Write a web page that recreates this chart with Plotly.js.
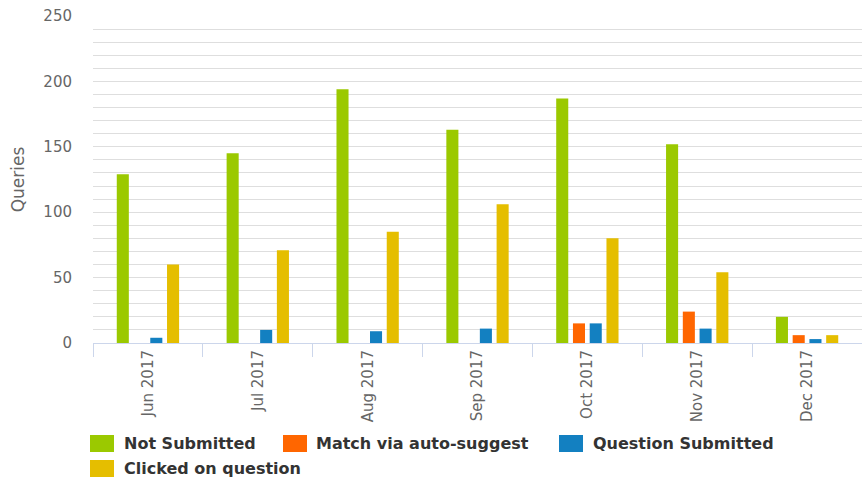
<!DOCTYPE html>
<html>
<head>
<meta charset="utf-8">
<script src="https://cdn.plot.ly/plotly-3.0.1.min.js"></script>
<style>
html,body{margin:0;padding:0;background:#fff;}
#chart{width:862px;height:483px;}
</style>
</head>
<body>
<div id="chart"></div>
<script>
var months = ["Jun 2017","Jul 2017","Aug 2017","Sep 2017","Oct 2017","Nov 2017","Dec 2017"];
var seriesNames = ["Not Submitted","Match via auto-suggest","Question Submitted","Clicked on question"];
var notSubmitted = [129, 145, 194, 163, 187, 152, 20];
var matchAutoSuggest = [0, 0, 0, 0, 15, 24, 6];
var questionSubmitted = [4, 10, 9, 11, 15, 11, 3];
var clickedOnQuestion = [60, 71, 85, 106, 80, 54, 6];
var colors = ["#9bc900", "#ff6600", "#1380c1", "#e5be00"];

var W = 862, H = 483;
var mL = 93, mR = 0, mT = 16, mB = 140;
var pw = W - mL - mR, ph = H - mT - mB;
function px2x(p){ return (p - mL) / pw; }
function px2y(p){ return (H - mB - p) / ph; }

var values = [notSubmitted, matchAutoSuggest, questionSubmitted, clickedOnQuestion];
var traces = values.map(function(v, i){
  return {
    type: "bar",
    name: seriesNames[i],
    x: months,
    y: v,
    marker: {color: colors[i]},
    showlegend: false,
    hoverinfo: "x+y+name"
  };
});

// custom legend (positions in pixels converted to paper coords)
var legendItems = [
  {sx: 90, tx: 122, cy: 443.5},
  {sx: 283, tx: 314, cy: 443.5},
  {sx: 559, tx: 591, cy: 443.5},
  {sx: 90, tx: 122, cy: 468.5}
];
var shapes = [], annotations = [];
legendItems.forEach(function(it, i){
  shapes.push({
    type: "rect", xref: "paper", yref: "paper",
    x0: px2x(it.sx), x1: px2x(it.sx + 24),
    y0: px2y(it.cy - 8.5), y1: px2y(it.cy + 8.5),
    fillcolor: colors[i], line: {width: 0}
  });
  annotations.push({
    xref: "paper", yref: "paper",
    x: px2x(it.tx), y: px2y(it.cy),
    xanchor: "left", yanchor: "middle",
    text: seriesNames[i], showarrow: false,
    font: {family: "DejaVu Sans", size: 16, color: "#333333", weight: "bold"}
  });
});

var layout = {
  width: W, height: H,
  margin: {l: mL, r: mR, t: mT, b: mB},
  paper_bgcolor: "#ffffff",
  plot_bgcolor: "#ffffff",
  barmode: "group",
  bargap: 0.39,
  bargroupgap: 0.28,
  showlegend: false,
  font: {family: "DejaVu Sans", color: "#666666"},
  xaxis: {
    type: "category",
    showgrid: false,
    showline: true, linecolor: "#ccd6eb", linewidth: 1,
    ticks: "outside", tickson: "boundaries", ticklen: 13, tickcolor: "#ccd6eb", tickwidth: 1,
    tickangle: -90,
    tickfont: {family: "DejaVu Sans", size: 15, color: "#666666"},
    fixedrange: true
  },
  yaxis: {
    range: [0, 250],
    dtick: 50, tick0: 0,
    showgrid: true, gridcolor: "#dedede", gridwidth: 1,
    minor: {dtick: 10, showgrid: true, gridcolor: "#dedede", gridwidth: 1},
    zeroline: false,
    showline: false,
    ticks: "",
    ticklabelstandoff: 20,
    tickfont: {family: "DejaVu Sans", size: 15, color: "#666666"},
    title: {text: "Queries", font: {family: "DejaVu Sans", size: 17, color: "#666666"}, standoff: 14},
    fixedrange: true
  },
  shapes: shapes,
  annotations: annotations
};

Plotly.newPlot("chart", traces, layout, {displayModeBar: false, staticPlot: false});
</script>
</body>
</html>
